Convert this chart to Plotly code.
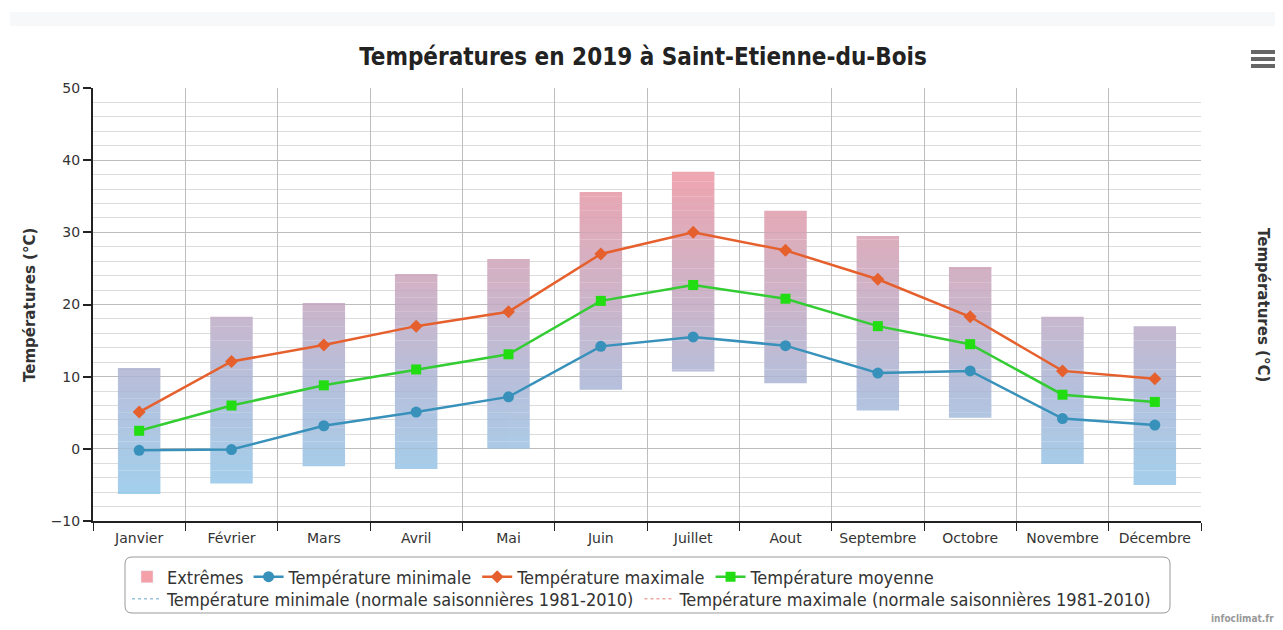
import plotly.graph_objects as go

# Données
mois = ["Janvier", "Février", "Mars", "Avril", "Mai", "Juin",
        "Juillet", "Aout", "Septembre", "Octobre", "Novembre", "Décembre"]
t_min = [-0.2, -0.1, 3.2, 5.1, 7.2, 14.2, 15.5, 14.3, 10.5, 10.8, 4.2, 3.3]
t_max = [5.1, 12.1, 14.4, 17.0, 19.0, 27.0, 30.0, 27.5, 23.5, 18.3, 10.8, 9.7]
t_moy = [2.5, 6.0, 8.8, 11.0, 13.1, 20.5, 22.7, 20.8, 17.0, 14.5, 7.5, 6.5]
ext_bas = [-6.2, -4.8, -2.4, -2.8, 0.0, 8.2, 10.7, 9.1, 5.3, 4.3, -2.1, -5.0]
ext_haut = [11.1, 18.3, 20.1, 24.2, 26.3, 35.6, 38.4, 33.0, 29.5, 25.1, 18.3, 17.0]

FONT_C = "DejaVu Sans Condensed, Liberation Sans Narrow, sans-serif"
FONT = "DejaVu Sans, sans-serif"

# dégradé bleu -> rose selon la température
stops = [(-10, (140, 205, 240)), (10, (172, 180, 212)), (25, (205, 163, 185)), (40, (240, 148, 160))]


def couleur(v):
    for (a, ca), (b, cb) in zip(stops, stops[1:]):
        if v <= b:
            t = max(0, (v - a) / (b - a))
            c = [round(ca[k] + (cb[k] - ca[k]) * t) for k in range(3)]
            return f"rgb({c[0]},{c[1]},{c[2]})"
    c = stops[-1][1]
    return f"rgb({c[0]},{c[1]},{c[2]})"


# conversion pixels de la page -> coordonnées "paper" (zone de tracé 93..1201 x 88..521)
def px(x):
    return (x - 93) / 1108


def py(y):
    return (521 - y) / 433


fig = go.Figure()

# Extrêmes : barres découpées en tranches pour simuler le dégradé
pas = 1.0
niv = -10.0
while niv < 50:
    bases, hauts = [], []
    for lo, hi in zip(ext_bas, ext_haut):
        b = max(lo, niv)
        h = min(hi, niv + pas)
        if h > b:
            bases.append(b)
            hauts.append(h - b)
        else:
            bases.append(None)
            hauts.append(None)
    if any(h is not None for h in hauts):
        fig.add_trace(go.Bar(
            x=mois, y=hauts, base=bases, width=0.46,
            marker=dict(color=couleur(niv + pas / 2), line=dict(width=0)),
            opacity=0.85, showlegend=False, hoverinfo="skip",
        ))
    niv += pas

# entrée de légende pour les extrêmes
fig.add_trace(go.Bar(x=mois, y=[None] * 12, name="Extrêmes",
                     marker=dict(color="#f4a0a8"), legend="legend"))

fig.add_trace(go.Scatter(
    x=mois, y=t_min, name="Température minimale", mode="lines+markers",
    line=dict(color="#3891ba", width=2.5),
    marker=dict(symbol="circle", size=11, color="#3891ba"), legend="legend",
))
fig.add_trace(go.Scatter(
    x=mois, y=t_max, name="Température maximale", mode="lines+markers",
    line=dict(color="#e5602d", width=2.5),
    marker=dict(symbol="diamond", size=10, color="#e5602d"), legend="legend",
))
fig.add_trace(go.Scatter(
    x=mois, y=t_moy, name="Température moyenne", mode="lines+markers",
    line=dict(color="#33cc33", width=2.5),
    marker=dict(symbol="square", size=10, color="#22dd11"), legend="legend",
))
fig.add_trace(go.Scatter(
    x=mois, y=[None] * 12, name="Température minimale (normale saisonnières 1981-2010)",
    mode="lines", line=dict(color="#9cc3dc", width=1.5, dash="dot"), legend="legend2",
))
fig.add_trace(go.Scatter(
    x=mois, y=[None] * 12, name="Température maximale (normale saisonnières 1981-2010)",
    mode="lines", line=dict(color="#f0a8a0", width=1.5, dash="dot"), legend="legend2",
))

axe_y = dict(
    range=[-10, 50], dtick=10, tick0=0,
    showgrid=True, gridcolor="#bdbdbd", gridwidth=1,
    minor=dict(dtick=2, showgrid=True, gridcolor="#dcdcdc", gridwidth=1),
    zeroline=False,
    showline=True, linecolor="#222", linewidth=2,
    ticks="outside", ticklen=8, tickcolor="#222", tickwidth=1.5,
    tickfont=dict(family=FONT, size=14, color="#333"),
)

leg = dict(orientation="h", x=px(127), xanchor="left", yanchor="middle",
           bgcolor="rgba(0,0,0,0)", borderwidth=0, itemwidth=30,
           font=dict(family=FONT_C, size=18, color="#333"), traceorder="normal")

# cadre arrondi de la légende
x0, x1, y0, y1, r = px(125), px(1170), py(557), py(613), 7
rx, ry = r / 1108, r / 433
cadre = (f"M {x0 + rx} {y0} L {x1 - rx} {y0} Q {x1} {y0} {x1} {y0 - ry} "
         f"L {x1} {y1 + ry} Q {x1} {y1} {x1 - rx} {y1} L {x0 + rx} {y1} "
         f"Q {x0} {y1} {x0} {y1 + ry} L {x0} {y0 - ry} Q {x0} {y0} {x0 + rx} {y0} Z")

shapes = [
    dict(type="rect", xref="paper", yref="paper", x0=px(10), x1=px(1283),
         y0=py(26), y1=py(12), line=dict(width=0), fillcolor="#f6f8fa", layer="below"),
    dict(type="path", path=cadre, xref="paper", yref="paper",
         line=dict(color="#999", width=1), fillcolor="rgba(0,0,0,0)", layer="below"),
]
# bouton menu
for yy in (52, 59, 66):
    shapes.append(dict(type="line", xref="paper", yref="paper",
                       x0=px(1251), x1=px(1276), y0=py(yy), y1=py(yy),
                       line=dict(color="#666", width=4)))

fig.update_layout(
    width=1270, height=618,
    margin=dict(l=85, r=77, t=80, b=105, autoexpand=False),
    paper_bgcolor="white", plot_bgcolor="white",
    barmode="overlay",
    title=dict(text="<b>Températures en 2019 à Saint-Etienne-du-Bois</b>",
               x=0.5, xanchor="center", y=1 - 49 / 618, yanchor="middle",
               font=dict(family=FONT_C, size=24, color="#222")),
    xaxis=dict(
        range=[-0.5, 11.5], tickson="boundaries",
        showgrid=True, gridcolor="#bdbdbd",
        showline=True, linecolor="#222", linewidth=2,
        ticks="outside", ticklen=8, tickcolor="#222", ticklabelstandoff=3,
        tickfont=dict(family=FONT, size=14, color="#333"),
    ),
    yaxis=axe_y,
    yaxis2=dict(axe_y, overlaying="y", side="right", showgrid=False,
                minor=dict(showgrid=False)),
    legend=dict(leg, y=py(577)),
    legend2=dict(leg, y=py(599)),
    shapes=shapes,
    annotations=[
        dict(text="<b>Températures (°C)</b>", textangle=-90, xref="paper", yref="paper",
             x=px(30), y=py(305), xanchor="center", yanchor="middle", showarrow=False,
             font=dict(family=FONT, size=15, color="#333")),
        dict(text="<b>Températures (°C)</b>", textangle=90, xref="paper", yref="paper",
             x=px(1263), y=py(305), xanchor="center", yanchor="middle", showarrow=False,
             font=dict(family=FONT, size=15, color="#333")),
        dict(text="<b>infoclimat.fr</b>", xref="paper", yref="paper", x=px(1276), y=py(618),
             xanchor="right", yanchor="middle", showarrow=False,
             font=dict(family=FONT_C, size=10, color="#999")),
    ],
)

fig.write_html("out.html")
